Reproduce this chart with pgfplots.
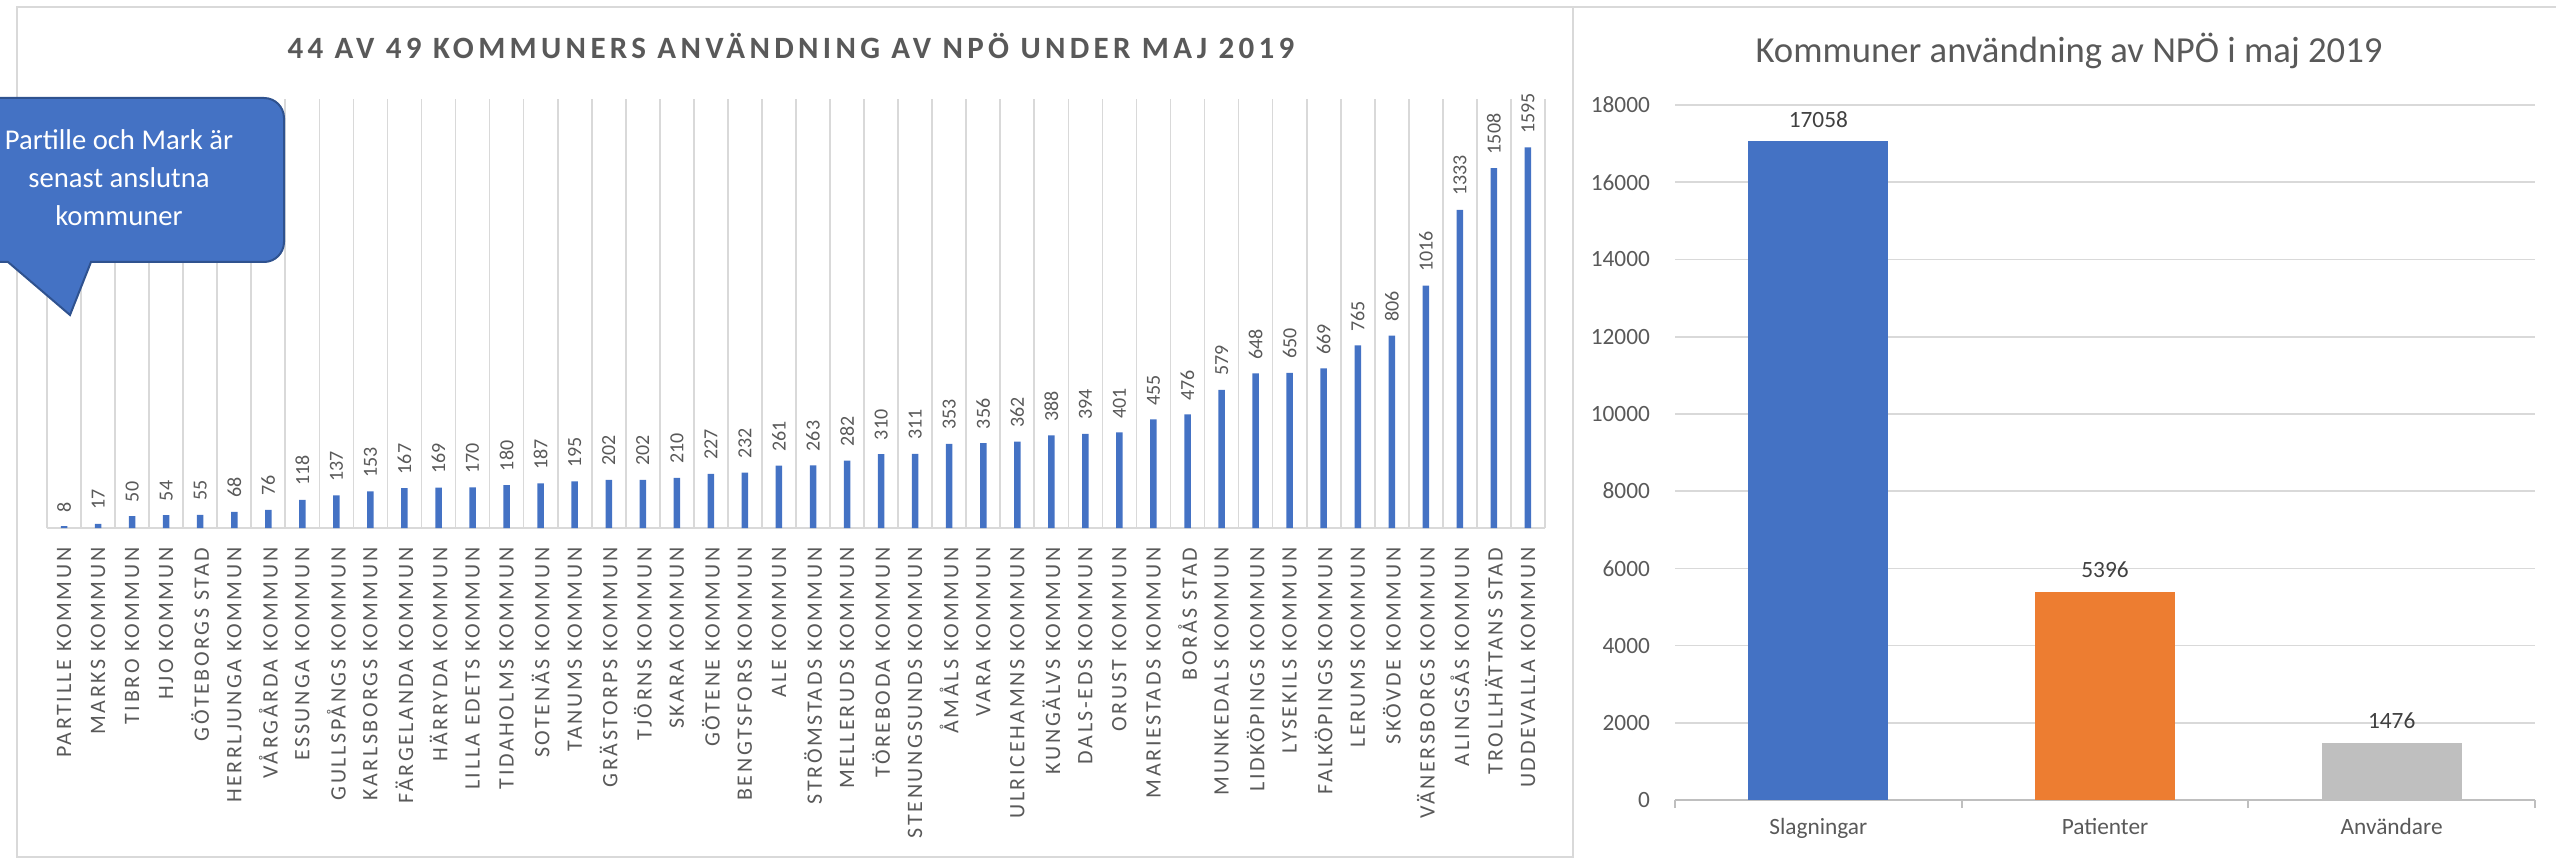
\documentclass[border=0pt]{standalone}
\usepackage{pgfplots}
\pgfplotsset{compat=1.18}
\usepackage{fontspec}
\setmainfont{Carlito}
\newfontfamily\spacedfont[LetterSpace=12]{Carlito}
\newfontfamily\spacedbold[LetterSpace=14]{Carlito Bold}
\newcommand\lb[1]{{\spacedfont\fontsize{6.6}{7}\selectfont #1}}
\newcommand\vl[1]{{\fontsize{6}{7}\selectfont #1}}
\definecolor{cblue}{HTML}{4472C4}
\definecolor{corange}{HTML}{ED7D31}
\definecolor{cgray}{HTML}{BFBFBF}
\definecolor{gridc}{HTML}{D9D9D9}
\definecolor{txt}{HTML}{595959}
\definecolor{txtd}{HTML}{404040}
\definecolor{cborder}{HTML}{2F528F}
\begin{document}
\begin{tikzpicture}
\path[use as bounding box] (0pt,0pt) rectangle (766.8pt,257.4pt);
\pgfplotsset{/pgf/number format/1000 sep={}, /pgf/number format/assume math mode=true}
% frames
\begin{scope}[x=0.3pt,y=-0.3pt,shift={(0pt,257.4pt)}]
\draw[gridc, line width=0.5pt] (17,7) rectangle (1573,857);
\draw[gridc, line width=0.5pt] (1573,7) -- (2556,7);
\end{scope}
% left chart
\begin{axis}[
  at={(14.1pt,99pt)}, anchor=south west,
  scale only axis, width=449.4pt, height=128.85pt,
  xmin=-0.5, xmax=43.5, ymin=0, ymax=1800,
  axis x line*=bottom, axis y line=none,
  x axis line style={-, draw=gridc, line width=0.5pt},
  ytick=\empty,
  xtick={0,...,43},
  xticklabels={\lb{PARTILLE KOMMUN},\lb{MARKS KOMMUN},\lb{TIBRO KOMMUN},\lb{HJO KOMMUN},\lb{GÖTEBORGS STAD},\lb{HERRLJUNGA KOMMUN},\lb{VÅRGÅRDA KOMMUN},\lb{ESSUNGA KOMMUN},\lb{GULLSPÅNGS KOMMUN},\lb{KARLSBORGS KOMMUN},\lb{FÄRGELANDA KOMMUN},\lb{HÄRRYDA KOMMUN},\lb{LILLA EDETS KOMMUN},\lb{TIDAHOLMS KOMMUN},\lb{SOTENÄS KOMMUN},\lb{TANUMS KOMMUN},\lb{GRÄSTORPS KOMMUN},\lb{TJÖRNS KOMMUN},\lb{SKARA KOMMUN},\lb{GÖTENE KOMMUN},\lb{BENGTSFORS KOMMUN},\lb{ALE KOMMUN},\lb{STRÖMSTADS KOMMUN},\lb{MELLERUDS KOMMUN},\lb{TÖREBODA KOMMUN},\lb{STENUNGSUNDS KOMMUN},\lb{ÅMÅLS KOMMUN},\lb{VARA KOMMUN},\lb{ULRICEHAMNS KOMMUN},\lb{KUNGÄLVS KOMMUN},\lb{DALS-EDS KOMMUN},\lb{ORUST KOMMUN},\lb{MARIESTADS KOMMUN},\lb{BORÅS STAD},\lb{MUNKEDALS KOMMUN},\lb{LIDKÖPINGS KOMMUN},\lb{LYSEKILS KOMMUN},\lb{FALKÖPINGS KOMMUN},\lb{LERUMS KOMMUN},\lb{SKÖVDE KOMMUN},\lb{VÄNERSBORGS KOMMUN},\lb{ALINGSÅS KOMMUN},\lb{TROLLHÄTTANS STAD},\lb{UDDEVALLA KOMMUN}},
  xticklabel style={yshift=-5.7pt, rotate=90, anchor=east, text=txt, inner sep=0pt},
  major tick length=0pt, minor tick length=0pt,
  minor xtick={-0.5,0.5,...,43.5},
  xminorgrids, minor grid style={draw=gridc, line width=0.5pt},
  clip=false,
]
\addplot[ybar, bar width=1.95pt, fill=cblue, draw=none,
  nodes near coords={\vl{\pgfmathprintnumber{\pgfplotspointmeta}}},
  every node near coord/.append style={rotate=90, anchor=west, text=txt, inner sep=4pt}]
  coordinates {(0,8)(1,17)(2,50)(3,54)(4,55)(5,68)(6,76)(7,118)(8,137)(9,153)(10,167)(11,169)(12,170)(13,180)(14,187)(15,195)(16,202)(17,202)(18,210)(19,227)(20,232)(21,261)(22,263)(23,282)(24,310)(25,311)(26,353)(27,356)(28,362)(29,388)(30,394)(31,401)(32,455)(33,476)(34,579)(35,648)(36,650)(37,669)(38,765)(39,806)(40,1016)(41,1333)(42,1508)(43,1595)};
\end{axis}
\node[font=\spacedbold\fontsize{9.3}{11}\selectfont, text=txt] at (237.3pt,243.6pt) {44 AV 49 KOMMUNERS ANVÄNDNING AV NPÖ UNDER MAJ 2019};
% right chart
\begin{axis}[
  at={(502.5pt,17.4pt)}, anchor=south west,
  scale only axis, width=258pt, height=208.5pt,
  xmin=-0.5, xmax=2.5, ymin=0, ymax=18000,
  axis x line*=bottom, axis y line*=left,
  y axis line style={draw=none},
  x axis line style={-, draw=cgray, line width=0.6pt},
  ytick={0,2000,...,18000},
  ymajorgrids, major grid style={draw=gridc, line width=0.5pt},
  yticklabel style={font=\fontsize{7}{8}\selectfont, text=txt, xshift=-4pt},
  scaled y ticks=false,
  xtick={0,1,2}, xticklabels={Slagningar,Patienter,Användare},
  xticklabel style={font=\fontsize{7}{8}\selectfont, text=txt, yshift=-2pt},
  major tick length=0pt,
  minor xtick={-0.5,0.5,1.5,2.5}, minor tick length=2.4pt, tick align=outside,
  minor tick style={draw=cgray, line width=0.6pt},
  clip=false,
]
\addplot[ybar, bar width=42pt, bar shift=0pt, fill=cblue, draw=none, nodes near coords,
  every node near coord/.append style={font=\fontsize{7}{8}\selectfont, text=txtd, inner sep=4pt}] coordinates {(0,17058)};
\addplot[ybar, bar width=42pt, bar shift=0pt, fill=corange, draw=none, nodes near coords,
  every node near coord/.append style={font=\fontsize{7}{8}\selectfont, text=txtd, inner sep=4pt}] coordinates {(1,5396)};
\addplot[ybar, bar width=42pt, bar shift=0pt, fill=cgray, draw=none, nodes near coords,
  every node near coord/.append style={font=\fontsize{7}{8}\selectfont, text=txtd, inner sep=4pt}] coordinates {(2,1476)};
\end{axis}
\node[font=\fontsize{11}{13}\selectfont, text=txt] at (620.7pt,242.1pt) {Kommuner användning av NPÖ i maj 2019};
% callout
\begin{scope}[x=0.3pt,y=-0.3pt,shift={(0pt,257.4pt)}]
\draw[fill=cblue, draw=cborder, line width=0.6pt]
  (8,262) [rounded corners=6pt] -- (-46,262) -- (-46,98) -- (284,98) -- (284,262) [sharp corners] -- (91,262) -- (70,315) -- cycle;
\node[text=white, align=center, font=\fontsize{8.6}{11.4}\selectfont] at (119,178) {Partille och Mark är\\senast anslutna\\kommuner};
\end{scope}
\end{tikzpicture}
\end{document}
